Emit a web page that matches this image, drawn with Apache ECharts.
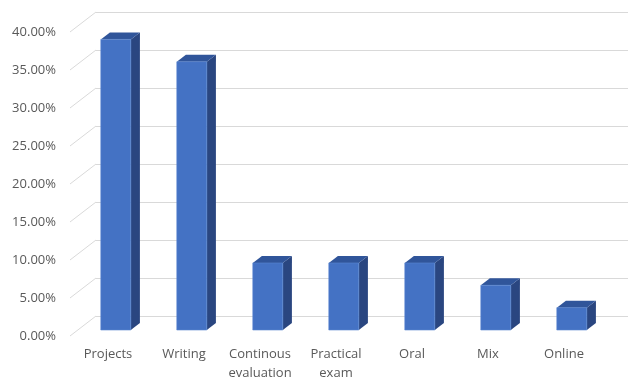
<!DOCTYPE html>
<html>
<head>
<meta charset="utf-8">
<script src="https://cdn.jsdelivr.net/npm/echarts@6/dist/echarts.min.js"></script>
<style>
  html, body { margin: 0; padding: 0; background: #fff; }
  #chart { width: 636px; height: 387px; }
</style>
</head>
<body>
<div id="chart"></div>
<script>
const categories = ['Projects', 'Writing', 'Continous evaluation', 'Practical exam', 'Oral', 'Mix', 'Online']
const shares = [38.24, 35.29, 8.82, 8.82, 8.82, 5.88, 2.94]
const yTicks = [0, 5, 10, 15, 20, 25, 30, 35, 40]

// oblique projection: back wall -> front plane offset
const FRONT_DX = -26
const FRONT_DY = 20
// bar occupies depth from 7/20 to 14/20 of the floor
const BAR_FRONT = 14 / 20
const BAR_BACK = 7 / 20

const chart = echarts.init(document.getElementById('chart'))

const labelFont = {
  color: '#595959',
  fontSize: 13,
  fontFamily: 'Open Sans'
}

function renderBar(params, api) {
  const idx = api.value(0)
  const val = api.value(1)
  const base = api.coord([idx, 0])
  const top = api.coord([idx, val])
  const w = api.size([1, 0])[0] * 0.395
  const fx = base[0] + FRONT_DX * BAR_FRONT
  const fy = FRONT_DY * BAR_FRONT
  const bx = base[0] + FRONT_DX * BAR_BACK
  const by = FRONT_DY * BAR_BACK
  const l = fx - w / 2
  const r = fx + w / 2
  const yb = base[1] + fy
  const yt = top[1] + fy
  const ddx = bx - fx
  const ddy = by - fy
  return {
    type: 'group',
    children: [
      {
        type: 'polygon',
        shape: { points: [[r, yt], [r, yb], [r + ddx, yb + ddy], [r + ddx, yt + ddy]] },
        style: { fill: '#2A4680' }
      },
      {
        type: 'polygon',
        shape: { points: [[l, yt], [r, yt], [r + ddx, yt + ddy], [l + ddx, yt + ddy]] },
        style: { fill: '#30559A' }
      },
      {
        type: 'rect',
        shape: { x: l, y: yt, width: w, height: yb - yt },
        style: { fill: '#4472C4', stroke: '#5a86d0', lineWidth: 0.6 }
      }
    ]
  }
}

function renderDiag(params, api) {
  const cs = params.coordSys
  const p = api.coord([0, api.value(1)])
  return {
    type: 'line',
    shape: { x1: cs.x, y1: p[1], x2: cs.x + FRONT_DX, y2: p[1] + FRONT_DY },
    style: { stroke: '#D9D9D9', lineWidth: 1 }
  }
}

const option = {
  animation: false,
  grid: [
    { left: 96, right: 8, top: 12, bottom: 71 },
    { left: 70, right: 34, top: 32, bottom: 51 }
  ],
  xAxis: [
    {
      type: 'category',
      gridIndex: 0,
      data: categories,
      axisLine: { show: false },
      axisTick: { show: false },
      axisLabel: { show: false }
    },
    {
      type: 'category',
      gridIndex: 1,
      data: categories,
      axisLine: { show: false },
      axisTick: { show: false },
      axisLabel: Object.assign({
        margin: 9,
        lineHeight: 19,
        interval: 0,
        formatter: function (name) { return name.replace(' ', '\n') }
      }, labelFont)
    }
  ],
  yAxis: [
    {
      type: 'value',
      gridIndex: 0,
      min: yTicks[0],
      max: yTicks[yTicks.length - 1],
      interval: 5,
      axisLine: { show: false },
      axisTick: { show: false },
      axisLabel: { show: false },
      splitLine: { lineStyle: { color: '#D9D9D9', width: 1 } }
    },
    {
      type: 'value',
      gridIndex: 1,
      min: yTicks[0],
      max: yTicks[yTicks.length - 1],
      interval: 5,
      axisLine: { show: false },
      axisTick: { show: false },
      splitLine: { show: false },
      axisLabel: Object.assign({
        margin: 14,
        formatter: function (v) { return v.toFixed(2) + '%' }
      }, labelFont)
    }
  ],
  series: [
    {
      type: 'custom',
      xAxisIndex: 0,
      yAxisIndex: 0,
      renderItem: renderDiag,
      data: yTicks.map(function (t) { return [0, t] }),
      z: 1
    },
    {
      type: 'custom',
      xAxisIndex: 0,
      yAxisIndex: 0,
      renderItem: renderBar,
      data: shares.map(function (v, i) { return [i, v] }),
      z: 2
    }
  ]
}

chart.setOption(option)
</script>
</body>
</html>
